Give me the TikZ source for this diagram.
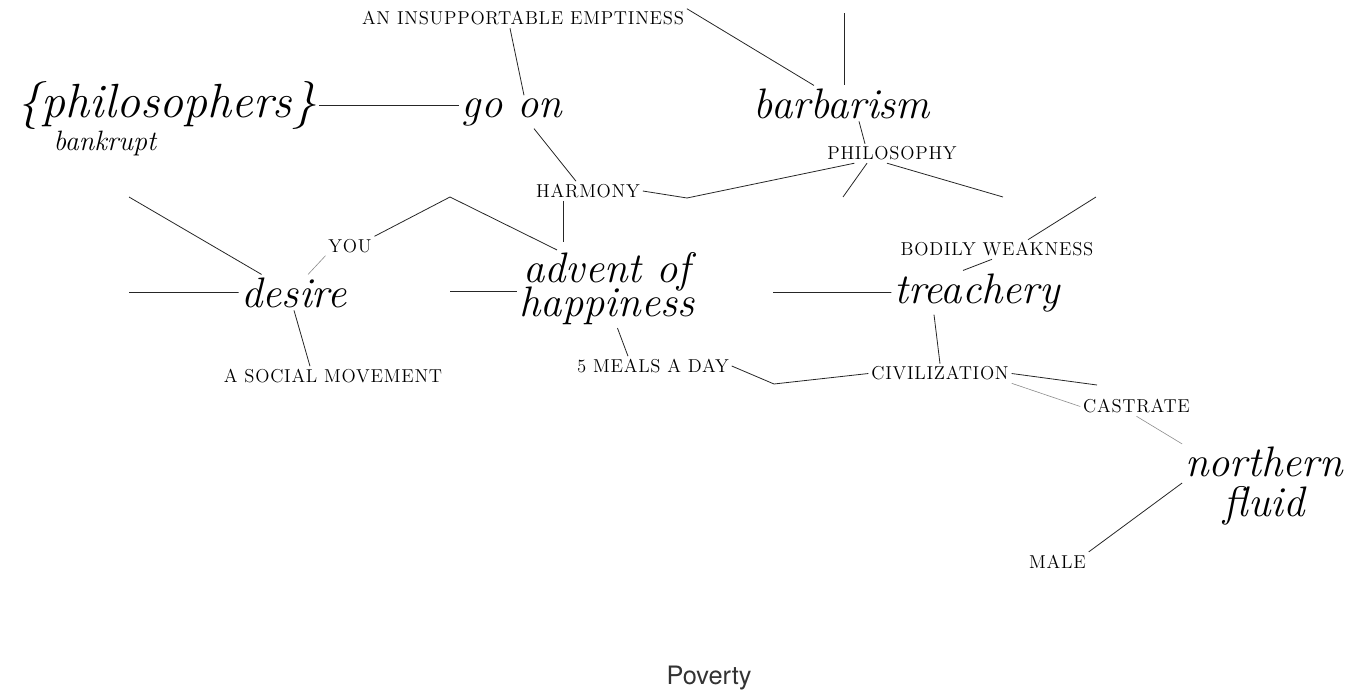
\documentclass[tikz,border=0pt]{standalone}
\usepackage{fontspec}
\newfontfamily\capfont[LetterSpace=4]{Latin Modern Roman}
\newfontfamily\povfont{TeX Gyre Heros}
\usetikzlibrary{calc}
\tikzset{
    word/.style =     {anchor=base,
                      inner sep=2pt,
                      text=black,
                      execute at begin node={\lineskiplimit=-100pt\relax},
                      font=\fontsize{32}{25.5}\selectfont\itshape},
    bigword/.style =  {word,
                      font=\fontsize{36}{40}\selectfont\itshape},
    subword/.style =  {word,
                      font=\fontsize{21}{24}\selectfont\itshape},
    caps/.style =     {inner sep=2pt,
                      text=black,
                      font=\capfont\fontsize{14}{16}\selectfont},
    poverty/.style =  {anchor=base,
                      text=black!80,
                      font=\povfont\fontsize{19}{21}\selectfont},
    link/.style =     {draw=black!85,
                      line width=0.6pt},
    faint/.style =    {draw=black!45,
                      line width=0.45pt}}
\begin{document}
\begin{tikzpicture}[x=0.75pt,y=-0.75pt]
\useasboundingbox (0,0) rectangle (1353,696);
    \node[bigword]  (philosophers)  at (167,117)    {\{philosophers\}};
    \node[subword]  (bankrupt)      at (105,150)    {bankrupt};
    \node[word]     (goon)          at (512,117)    {go on};
    \node[word]     (barbarism)     at (842,118)    {barbarism};
    \node[word]     (desire)        at (294,307)    {desire};
    \node[word,anchor=center,align=center]
                    (advent)        at (607,289)    {advent of\\happiness};
    \node[word]     (treachery)     at (977,303)    {treachery};
    \node[word,anchor=center,align=center]
                    (northern)      at (1264,486)   {northern\\[4.5pt]fluid};
    \node[caps]     (empt)          at (523,18.5)   {AN INSUPPORTABLE EMPTINESS};
    \node[caps]     (harmony)       at (588,191)    {HARMONY};
    \node[caps]     (philosophy)    at (892,153.5)  {PHILOSOPHY};
    \node[caps]     (you)           at (350,246)    {YOU};
    \node[caps]     (social)        at (333,376)    {A SOCIAL MOVEMENT};
    \node[caps]     (meals)         at (653,366)    {5 MEALS A DAY};
    \node[caps]     (bodily)        at (997,249.5)  {BODILY WEAKNESS};
    \node[caps]     (civil)         at (940,373.5)  {CIVILIZATION};
    \node[caps]     (castrate)      at (1136.5,406.5) {CASTRATE};
    \node[caps]     (male)          at (1057.5,561.5) {MALE};
    \node[poverty]  (poverty)       at (709,684)    {Poverty};

    \coordinate (top)    at (844,13);
    \coordinate (hbend)  at (687,198);
    \coordinate (pdl)    at (843,197);
    \coordinate (pdr)    at (1003,197);
    \coordinate (bfree)  at (1096,197);
    \coordinate (tleft)  at (773,292.5);
    \coordinate (cfree)  at (1097,385);
    \coordinate (mbend)  at (774,384);
    \coordinate (ulfree) at (129,197);
    \coordinate (dleft)  at (129,292.5);
    \coordinate (peak)   at (450,197);
    \coordinate (aleft)  at (450,291);

    \path [link] (philosophers.east)                    edge (philosophers.east -| goon.west)
                 ([shift={(-13,0)}]empt.south)          edge ([shift={(12,0)}]goon.north)
                 ([shift={(22,0)}]goon.south)           edge ([shift={(-12,0)}]harmony.north)
                 ([shift={(-25,0)}]harmony.south)       edge ([shift={(-44,-8)}]advent.north)
                 (empt.north east)                      edge ([shift={(-28,0)}]barbarism.north)
                 (top)                                  edge (top |- barbarism.north)
                 ([shift={(17,0)}]barbarism.south)      edge ([shift={(-27,0)}]philosophy.north)
                 ([shift={(-25,0)}]philosophy.south)    edge (pdl)
                 ([shift={(-5,0)}]philosophy.south)     edge (pdr)
                 (bfree)                                edge ([shift={(31,0)}]bodily.north)
                 ([shift={(-5,0)}]bodily.south)         edge ([shift={(-14,0)}]treachery.north)
                 (tleft)                                edge (treachery.west)
                 ([shift={(-43,0)}]treachery.south)     edge (civil.north)
                 (civil.east)                           edge (cfree)
                 (male.north east)                      edge ([shift={(0,-3)}]northern.west)
                 (ulfree)                               edge (desire.151)
                 (dleft)                                edge (desire.west)
                 (you.north east)                       edge (peak)
                 (peak)                                 edge (advent.142)
                 (desire.south)                         edge ([shift={(-23,0)}]social.north)
                 (aleft)                                edge (aleft -| advent.west)
                 (advent.-75)                           edge ([shift={(-25,0)}]meals.north);
    \draw [link] (harmony.east) -- (hbend) -- ([shift={(30,0)}]philosophy.south west);
    \draw [link] (meals.east) -- (mbend) -- (civil.west);
    \path [faint] (you.south west)      edge (desire.52)
                  (civil.south east)    edge (castrate.west)
                  (castrate.south)      edge (northern.north west);
\end{tikzpicture}
\end{document}
